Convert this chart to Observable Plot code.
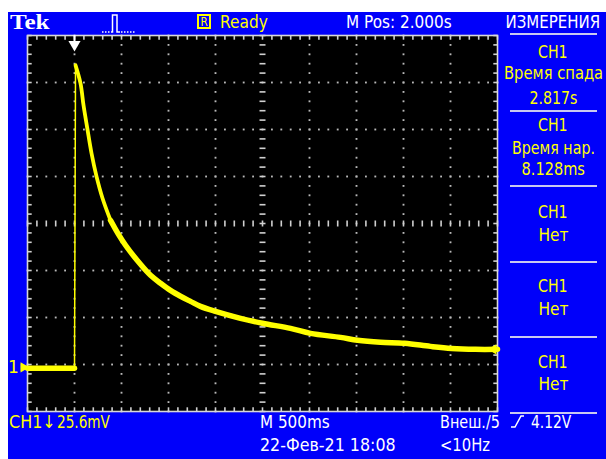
<!DOCTYPE html>
<html><head><meta charset="utf-8">
<script src="https://cdn.jsdelivr.net/npm/d3@7"></script>
<script src="https://cdn.jsdelivr.net/npm/@observablehq/plot@0.6"></script>
<style>
html,body{margin:0;padding:0;background:#fff;}
#wrap{position:relative;width:606px;height:459px;overflow:hidden;background:#fff;}
#scr{position:absolute;left:8px;top:12px;width:598px;height:447px;background:#0000fa;}
#plot{position:absolute;left:0;top:0;}
.t{position:absolute;font-family:"DejaVu Sans",Roboto,sans-serif;white-space:nowrap;}
.sep{position:absolute;height:2px;background:#c8c8f0;}
#icons{position:absolute;left:0;top:0;}
</style></head>
<body>
<div id="wrap">
  <div id="scr"></div>
  <div id="plot"></div>
  <svg id="icons" width="606" height="459">
    <g stroke="#fff" fill="none" stroke-width="1.5">
      <path d="M102,32H111" stroke-dasharray="1.5 1.5"/>
      <path d="M111,32H112.5V15H117V32H120"/>
      <path d="M121,32H135" stroke-dasharray="1.5 1.5"/>
      <path d="M511,427H515L521,416H524"/>
    </g>
  </svg>
</div>
<script>
// ---- Data read from the oscilloscope screen ----
// time relative to trigger (s), channel 1 voltage (mV)
const timeS   = [-0.5, 0.0, 0.0, 0.011, 0.011, 0.064, 0.096, 0.138, 0.181, 0.234, 0.298, 0.383, 0.383, 0.468, 0.543, 0.702, 0.809, 0.915, 1.021, 1.128, 1.234, 1.340, 1.500, 1.766, 2.000, 2.298, 2.511, 2.830, 3.011, 3.255, 3.511, 3.787, 4.011, 4.266, 4.5];
const voltMv  = [-0.5, -0.5, -0.5, 164.5, 164.5, 154.7, 142.7, 129.6, 116.6, 104.0, 92.1, 80.1, 80.1, 72.4, 66.5, 56.1, 50.1, 45.8, 41.9, 38.7, 35.9, 33.2, 30.5, 26.7, 24.0, 21.2, 18.5, 16.3, 14.7, 13.6, 13.1, 11.4, 10.3, 9.8, 9.8];
const segment = ["base","base","rise","rise","fall","fall","fall","fall","fall","fall","fall","fall","tail","tail","tail","tail","tail","tail","tail","tail","tail","tail","tail","tail","tail","tail","tail","tail","tail","tail","tail","tail","tail","tail","tail"];

// scope settings
const voltsPerDiv = 25.6;   // mV/div
const secPerDiv = 0.5;      // s/div (M 500ms)
const groundDivs = 0.94;    // ground marker height above bottom (div)
const triggerDivs = 1;      // trigger position from left edge (div)
const triggerLevelMv = 9.8; // trigger level marker on right edge

// labels
const topLabels = ["Tek", "Ready", "M Pos: 2.000s", "ИЗМЕРЕНИЯ"];
const measTitles = ["CH1", "CH1", "CH1", "CH1", "CH1"];
const measNames = ["Время спада", "Время нар.", "Нет", "Нет", "Нет"];
const measValues = ["2.817s", "8.128ms", "", "", ""];
const bottomLabels = ["CH1\u2193", "25.6mV", "M 500ms", "22-Фев-21 18:08", "Внеш./5", "4.12V", "<10Hz"];

// ---- scales ----
const xDomain = [-triggerDivs * secPerDiv, (10 - triggerDivs) * secPerDiv];
const yDomain = [-groundDivs * voltsPerDiv, (8 - groundDivs) * voltsPerDiv];
const minorX = d3.range(0, 51).map(i => xDomain[0] + i * secPerDiv / 5);
const minorY = d3.range(0, 41).map(i => yDomain[0] + i * voltsPerDiv / 5);
const majorX = d3.range(1, 10).filter(i => i !== 5).map(i => xDomain[0] + i * secPerDiv);
const majorY = d3.range(1, 8).filter(i => i !== 4).map(i => yDomain[0] + i * voltsPerDiv);
const cX = xDomain[0] + 5 * secPerDiv, cY = yDomain[0] + 4 * voltsPerDiv;
const gridPts = d3.cross(majorX, minorY).concat(d3.cross(minorX, majorY));

const trace = timeS.map((t, i) => ({t, v: voltMv[i], seg: segment[i]}));

const hline = {draw(ctx, size) { const r = Math.sqrt(size / Math.PI); ctx.moveTo(-r, 0); ctx.lineTo(r, 0); }};
const vline = {draw(ctx, size) { const r = Math.sqrt(size / Math.PI); ctx.moveTo(0, -r); ctx.lineTo(0, r); }};
const tickCol = "#d0d0d0";
const Y = "#ffff00";

const chart = Plot.plot({
  width: 606, height: 459,
  marginLeft: 27, marginRight: 109, marginTop: 35, marginBottom: 48,
  style: {background: "transparent", overflow: "visible"},
  x: {domain: xDomain, axis: null},
  y: {domain: yDomain, axis: null},
  marks: [
    Plot.frame({fill: "black", stroke: null}),
    Plot.dot(gridPts, {x: d => d[0], y: d => d[1], symbol: "square", r: 1.05, fill: "#b8b8b8", stroke: null}),
    Plot.dot(minorX, {x: d => d, y: cY, symbol: vline, r: 3, stroke: tickCol, strokeWidth: 1.6, fill: "none"}),
    Plot.dot(minorY, {x: cX, y: d => d, symbol: hline, r: 3, stroke: tickCol, strokeWidth: 1.6, fill: "none"}),
    Plot.dot(minorY, {x: xDomain[0], y: d => d, dx: 2, symbol: hline, r: 2.2, stroke: tickCol, strokeWidth: 1.6, fill: "none"}),
    Plot.dot(minorY, {x: xDomain[1], y: d => d, dx: -2, symbol: hline, r: 2.2, stroke: tickCol, strokeWidth: 1.6, fill: "none"}),
    Plot.dot(minorX, {x: d => d, y: yDomain[1], dy: 2, symbol: vline, r: 2.2, stroke: tickCol, strokeWidth: 1.6, fill: "none"}),
    Plot.dot(minorX, {x: d => d, y: yDomain[0], dy: -2, symbol: vline, r: 2.2, stroke: tickCol, strokeWidth: 1.6, fill: "none"}),
    Plot.frame({stroke: "#d8d8d8", strokeWidth: 1.6}),
    Plot.line(trace.filter(d => d.seg === "base"), {x: "t", y: "v", stroke: Y, strokeWidth: 5.5}),
    Plot.line(trace.filter(d => d.seg === "rise"), {x: "t", y: "v", stroke: Y, strokeWidth: 1.5}),
    Plot.line(trace.filter(d => d.seg === "fall"), {x: "t", y: "v", stroke: Y, strokeWidth: 3.8, curve: "catmull-rom", strokeLinejoin: "round", strokeLinecap: "round"}),
    Plot.line(trace.filter(d => d.seg === "tail"), {x: "t", y: "v", stroke: Y, strokeWidth: 5.5, curve: "catmull-rom", strokeLinejoin: "round", strokeLinecap: "round"}),
    // trigger position marker
    Plot.dot([0], {x: d => d, y: yDomain[1], dy: 3, symbol: vline, r: 3.5, stroke: "white", strokeWidth: 2, fill: "none"}),
    Plot.dot([0], {x: d => d, y: yDomain[1], dy: 9, symbol: "triangle", rotate: 180, r: 4.5, fill: "white", stroke: null}),
    // ground marker
    Plot.text(["1"], {x: xDomain[0], y: 0, dx: -14, text: d => d, fill: Y, fontSize: 17, fontFamily: "DejaVu Sans"}),
    Plot.dot([0], {x: xDomain[0], y: d => d, dx: -4, symbol: "triangle", rotate: 90, r: 3.8, fill: Y, stroke: null}),
    Plot.dot([0], {x: xDomain[0], y: d => d, dx: -6, symbol: vline, r: 3.5, stroke: Y, strokeWidth: 1.5, fill: "none"}),
    // trigger level marker
    Plot.dot([triggerLevelMv], {x: xDomain[1], y: d => d, dx: -4, symbol: "triangle", rotate: -90, r: 3.8, fill: Y, stroke: null})
  ]
});
document.getElementById("plot").append(chart);

// ---- text overlay ----
const wrap = document.getElementById("wrap");
function label(text, {x, capTop, w, color = "#fff", size = 18, align = "left", family, capOff = 0.12, weight}) {
  const el = document.createElement("div");
  el.className = "t";
  el.textContent = text;
  el.style.color = color;
  el.style.fontSize = size + "px";
  el.style.lineHeight = size + "px";
  if (family) el.style.fontFamily = family;
  if (weight) el.style.fontWeight = weight;
  el.style.top = (capTop - capOff * size) + "px";
  wrap.append(el);
  const ow = el.offsetWidth;
  const s = w ? w / ow : 1;
  if (align === "center") {
    el.style.left = (x - ow / 2) + "px";
    el.style.transformOrigin = "50% 50%";
  } else {
    el.style.left = x + "px";
    el.style.transformOrigin = "0 50%";
  }
  el.style.transform = `scaleX(${s})`;
  return el;
}
function sep(y) {
  const d = document.createElement("div");
  d.className = "sep";
  d.style.left = "510px"; d.style.width = "87px"; d.style.top = (y - 1) + "px";
  wrap.append(d);
}
label(topLabels[0], {x: 10, capTop: 15, w: 40, size: 22, family: "'Liberation Serif', serif", weight: "bold", capOff: 0.17});
// boxed R
const box = document.createElement("div");
box.style.cssText = "position:absolute;left:197px;top:14px;width:10px;height:11px;border:2px solid #ffff00;";
wrap.append(box);
label("R", {x: 204, capTop: 17.5, w: 7, size: 12, color: Y, align: "center"});
label(topLabels[1], {x: 220, capTop: 15, w: 48, color: Y});
label(topLabels[2], {x: 346, capTop: 15, w: 106});
label(topLabels[3], {x: 553, capTop: 15, w: 95, align: "center"});

const seps = [34, 111, 186, 262, 337, 413];
seps.forEach(sep);
const blockOff = [[11, 32, 57], [7, 30, 51], [19, 42], [17, 40], [18, 40]];
const widths = {"CH1": 30, "Время спада": 99, "Время нар.": 83, "Нет": 30, "2.817s": 48, "8.128ms": 63};
for (let i = 0; i < 5; i++) {
  const base = seps[i];
  const o = blockOff[i];
  label(measTitles[i], {x: 553, capTop: base + o[0], w: widths["CH1"], color: Y, align: "center"});
  label(measNames[i], {x: 553, capTop: base + o[1], w: widths[measNames[i]], color: Y, align: "center"});
  if (measValues[i]) label(measValues[i], {x: 553, capTop: base + o[2], w: widths[measValues[i]], color: Y, align: "center"});
}

label(bottomLabels[0], {x: 9, capTop: 415, w: 47, color: Y});
label(bottomLabels[1], {x: 57, capTop: 415, w: 53, color: Y});
label(bottomLabels[2], {x: 260, capTop: 415, w: 70});
label(bottomLabels[3], {x: 260, capTop: 438, w: 136});
label(bottomLabels[4], {x: 440, capTop: 415, w: 60});
label(bottomLabels[5], {x: 531, capTop: 415, w: 40});
label(bottomLabels[6], {x: 440, capTop: 438, w: 50});
</script>
</body></html>
